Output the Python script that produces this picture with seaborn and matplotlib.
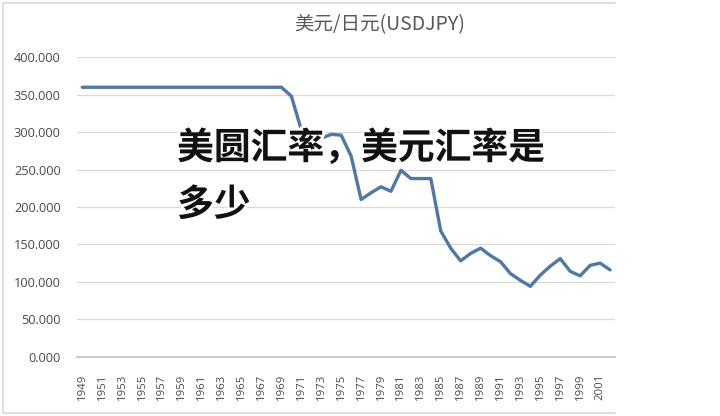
import matplotlib
matplotlib.use("Agg")
import matplotlib.pyplot as plt
import matplotlib.patheffects as pe
from matplotlib.lines import Line2D
import seaborn as sns
import pandas as pd

# ---- data ----
years = list(range(1949, 2003))
rates = [360] * 21 + [
    348, 303, 272, 292, 297, 296, 268, 210, 219, 227,   # 1970-1979
    221, 249, 238, 238, 238, 168, 145, 128, 138, 145,   # 1980-1989
    135, 127, 111, 102, 94, 109, 121, 131, 114, 108,    # 1990-1999
    122, 125, 116,                                      # 2000-2002
]
tick_years = list(range(1949, 2002, 2))
y_ticks = [0, 50, 100, 150, 200, 250, 300, 350, 400]
title = "美元/日元(USDJPY)"
overlay = "美圆汇率，美元汇率是\n多少"

df = pd.DataFrame({"year": years, "rate": rates})

sns.set_theme(style="white")
plt.rcParams["font.family"] = ["Open Sans", "Noto Sans CJK SC", "DejaVu Sans"]

fig = plt.figure(figsize=(7.2, 4.16), dpi=100)
ax = fig.add_axes([77.3 / 720, 59.3 / 416, (615 - 77.3) / 720, 299.4 / 416])

sns.lineplot(data=df, x="year", y="rate", ax=ax, color="#4f78a3", linewidth=2.4)

ax.set_xlim(1948.5, 2002.5)
ax.set_ylim(0, 400)
ax.set_yticks(y_ticks)
ax.set_yticklabels([f"{v:.3f}" for v in y_ticks], fontsize=9.2, color="#4a4a4a")
ax.set_xticks(tick_years)
ax.set_xticklabels([str(y) for y in tick_years], rotation=90, fontsize=8.2, color="#4a4a4a")
ax.tick_params(axis="x", length=0, pad=12)
ax.tick_params(axis="y", length=0, pad=12)
ax.set_xlabel("")
ax.set_ylabel("")
ax.grid(axis="y", color="#d9d9d9", linewidth=0.9)
ax.grid(axis="x", visible=False)
for s in ["top", "right", "left"]:
    ax.spines[s].set_visible(False)
ax.spines["bottom"].set_color("#c8c8c8")
ax.spines["bottom"].set_linewidth(1.4)
ax.set_axisbelow(True)

# outer chart frame (top, left, bottom)
fx0, fx1 = 2.5 / 720, 615 / 720
fy0, fy1 = (416 - 412.5) / 416, (416 - 2.5) / 416
for xs, ys in [([fx0, fx1], [fy1, fy1]), ([fx0, fx0], [fy0, fy1]), ([fx0, fx1], [fy0, fy0])]:
    fig.add_artist(Line2D(xs, ys, transform=fig.transFigure, color="#d9d9d9", linewidth=1.2))

fig.text(380 / 720, 1 - 25 / 416, title, ha="center", va="center", fontsize=14,
         color="#595959", family=["Noto Sans CJK SC", "DejaVu Sans"])

fig.text(177 / 720, 1 - 130 / 416, overlay, ha="left", va="top", fontsize=26.5,
         fontweight="heavy", color="#111111", linespacing=1.68,
         family=["Noto Sans CJK SC", "DejaVu Sans"],
         path_effects=[pe.withStroke(linewidth=4, foreground="white")])

fig.savefig("out.png", dpi=100)
